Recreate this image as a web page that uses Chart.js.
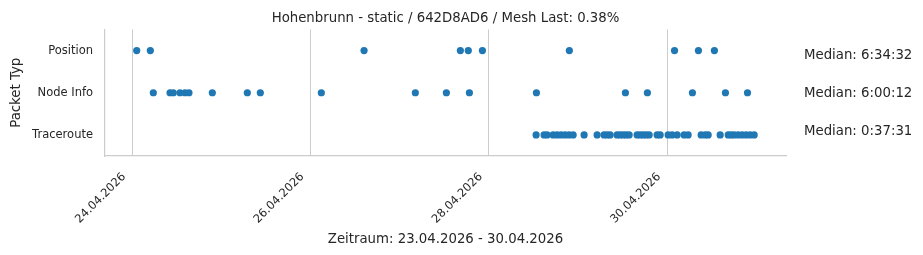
<!DOCTYPE html>
<html>
<head>
<meta charset="utf-8">
<script src="https://cdn.jsdelivr.net/npm/chart.js@4.4.0/dist/chart.umd.min.js"></script>
<style>
  html, body { margin: 0; padding: 0; background: #ffffff; }
  #wrap { width: 923px; height: 255px; position: relative; }
</style>
</head>
<body>
<div id="wrap"><canvas id="c"></canvas></div>
<script>
// ---- data (times in UTC) ----
const categories = ['Position', 'Node Info', 'Traceroute'];
const medians = ['Median: 6:34:32', 'Median: 6:00:12', 'Median: 0:37:31'];
const titleText = 'Hohenbrunn - static / 642D8AD6 / Mesh Last: 0.38%';
const xTitle = 'Zeitraum: 23.04.2026 - 30.04.2026';
const yTitle = 'Packet Typ';
const tickDates = ['2026-04-24T00:00Z', '2026-04-26T00:00Z', '2026-04-28T00:00Z', '2026-04-30T00:00Z'];
const xRange = ['2026-04-23T16:44Z', '2026-05-01T08:00Z'];

const positionTimes = [
  '2026-04-24T01:16Z', '2026-04-24T04:56Z', '2026-04-26T14:27Z', '2026-04-27T16:22Z',
  '2026-04-27T18:30Z', '2026-04-27T22:18Z', '2026-04-28T21:42Z', '2026-04-30T02:00Z',
  '2026-04-30T08:26Z', '2026-04-30T12:44Z'
];
const nodeInfoTimes = [
  '2026-04-24T05:44Z', '2026-04-24T10:14Z', '2026-04-24T11:07Z', '2026-04-24T12:55Z',
  '2026-04-24T14:16Z', '2026-04-24T15:20Z', '2026-04-24T21:37Z', '2026-04-25T07:02Z',
  '2026-04-25T10:32Z', '2026-04-26T02:57Z', '2026-04-27T04:15Z', '2026-04-27T12:36Z',
  '2026-04-27T18:48Z', '2026-04-28T12:50Z', '2026-04-29T12:47Z', '2026-04-29T18:42Z',
  '2026-04-30T06:49Z', '2026-04-30T15:42Z', '2026-04-30T21:38Z'
];
const tracerouteTimes = [
  '2026-04-28T12:45Z', '2026-04-28T14:54Z', '2026-04-28T15:42Z', '2026-04-28T17:20Z',
  '2026-04-28T18:24Z', '2026-04-28T19:29Z', '2026-04-28T20:34Z', '2026-04-28T21:38Z',
  '2026-04-28T22:43Z', '2026-04-29T01:40Z', '2026-04-29T05:10Z', '2026-04-29T07:03Z',
  '2026-04-29T07:52Z', '2026-04-29T08:40Z', '2026-04-29T10:33Z', '2026-04-29T11:21Z',
  '2026-04-29T12:10Z', '2026-04-29T12:58Z', '2026-04-29T13:47Z', '2026-04-29T15:56Z',
  '2026-04-29T16:45Z', '2026-04-29T17:33Z', '2026-04-29T18:22Z', '2026-04-29T19:10Z',
  '2026-04-29T21:19Z', '2026-04-29T22:08Z', '2026-04-30T00:17Z', '2026-04-30T01:22Z',
  '2026-04-30T02:42Z', '2026-04-30T04:35Z', '2026-04-30T05:40Z', '2026-04-30T09:10Z',
  '2026-04-30T10:15Z', '2026-04-30T11:03Z', '2026-04-30T14:17Z', '2026-04-30T16:27Z',
  '2026-04-30T17:15Z', '2026-04-30T18:03Z', '2026-04-30T19:08Z', '2026-04-30T20:12Z',
  '2026-04-30T21:17Z', '2026-04-30T22:22Z', '2026-04-30T23:26Z'
];
// vertical placement of the median notes, as fractions of the plot height
const medianFractions = [0.205, 0.505, 0.805];

// ---- build ----
const seriesTimes = [positionTimes, nodeInfoTimes, tracerouteTimes];
const points = [];
seriesTimes.forEach((arr, i) => arr.forEach(t => points.push({ x: Date.parse(t), y: categories[i] })));
const tickValues = tickDates.map(t => Date.parse(t));

function fmtDate(ms) {
  const d = new Date(ms);
  const p = n => String(n).padStart(2, '0');
  return p(d.getUTCDate()) + '.' + p(d.getUTCMonth() + 1) + '.' + d.getUTCFullYear();
}

const FONT = "'DejaVu Sans', sans-serif";
const TXT = '#262626';
const GRID = '#cccccc';

const medianPlugin = {
  id: 'medianText',
  afterDraw(chart) {
    const ctx = chart.ctx;
    const a = chart.chartArea;
    ctx.save();
    ctx.font = '13.3px ' + FONT;
    ctx.fillStyle = TXT;
    ctx.textAlign = 'left';
    ctx.textBaseline = 'middle';
    medians.forEach((m, i) => {
      ctx.fillText(m, a.right + 18, a.top + medianFractions[i] * (a.bottom - a.top));
    });
    ctx.restore();
  }
};

new Chart(document.getElementById('c'), {
  type: 'scatter',
  data: {
    datasets: [{
      data: points,
      backgroundColor: '#1f77b4',
      borderWidth: 0,
      pointRadius: 3.6,
      pointHoverRadius: 3.6
    }]
  },
  options: {
    responsive: true,
    maintainAspectRatio: false,
    animation: false,
    devicePixelRatio: 1,
    layout: { padding: { left: 0, right: 137, top: 0, bottom: 0 } },
    plugins: {
      legend: { display: false },
      tooltip: { enabled: false },
      title: {
        display: true,
        fullSize: false,
        text: titleText,
        color: TXT,
        font: { family: FONT, size: 13.3, weight: 'normal' },
        padding: { top: 11, bottom: 2.5 }
      }
    },
    scales: {
      x: {
        type: 'linear',
        min: Date.parse(xRange[0]),
        max: Date.parse(xRange[1]),
        afterBuildTicks(scale) { scale.ticks = tickValues.map(v => ({ value: v })); },
        afterFit(scale) { scale.height = 99; },
        ticks: {
          autoSkip: false,
          minRotation: 45,
          maxRotation: 45,
          padding: 14,
          labelOffset: -8,
          color: TXT,
          font: { family: FONT, size: 11.5 },
          callback: v => fmtDate(v)
        },
        grid: { display: true, color: GRID, lineWidth: 1, drawTicks: false },
        border: { display: true, color: GRID, width: 1.2 },
        title: {
          display: true,
          text: xTitle,
          color: TXT,
          font: { family: FONT, size: 13.3 },
          padding: { top: 0, bottom: 7.5 }
        }
      },
      y: {
        type: 'category',
        labels: categories,
        offset: true,
        afterFit(scale) { scale.width = 105; },
        ticks: {
          padding: 12,
          color: TXT,
          font: { family: FONT, size: 11.5 }
        },
        grid: { display: false, drawTicks: false },
        border: { display: true, color: GRID, width: 1.2 },
        title: {
          display: true,
          text: yTitle,
          color: TXT,
          font: { family: FONT, size: 13.3 },
          padding: { top: 8.5 }
        }
      }
    }
  },
  plugins: [medianPlugin]
});
</script>
</body>
</html>
